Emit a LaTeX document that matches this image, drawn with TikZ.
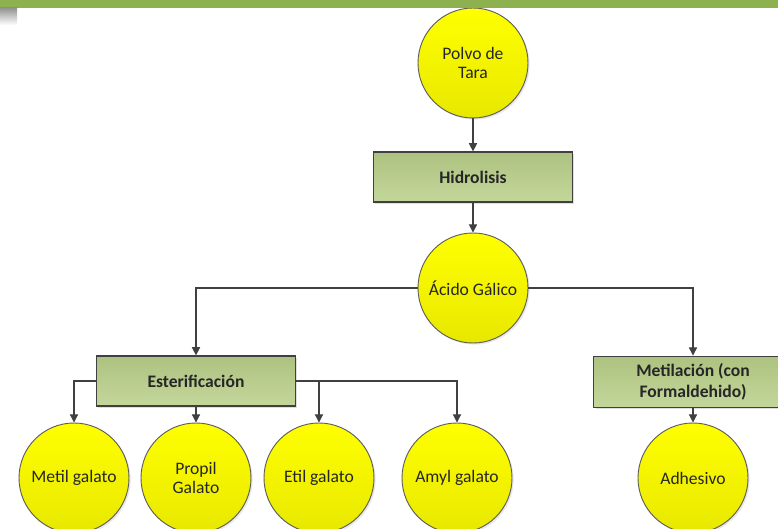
\documentclass[tikz,border=0pt]{standalone}
\usepackage{fontspec}
\setmainfont{Carlito}
\usetikzlibrary{positioning,arrows.meta,shadows}
\definecolor{amarillo}{HTML}{FFFF00}
\definecolor{amarilloosc}{HTML}{E8E800}
\definecolor{verdecaja}{HTML}{C4D79B}
\definecolor{verdecajaosc}{HTML}{ADC280}
\definecolor{verdebarra}{HTML}{8DB14F}
\definecolor{gris}{HTML}{404040}
\begin{document}
\begin{tikzpicture}[x=.03cm,y=.03cm,
	circulo/.style={circle,draw=gris!85,line width=.8pt,top color=amarillo,bottom color=amarilloosc,
		minimum size=3.3cm,inner sep=0pt,align=center,text=black!85,
		font=\fontsize{15}{17}\selectfont,
		drop shadow={opacity=.18,shadow xshift=.05cm,shadow yshift=-.05cm}},
	caja/.style={rectangle,draw=gris,line width=1pt,top color=verdecajaosc,bottom color=verdecaja,
		minimum width=5.95cm,minimum height=1.5cm,align=center,text=black!85,
		font=\fontsize{15}{18}\selectfont\bfseries,
		drop shadow={opacity=.25,shadow xshift=.05cm,shadow yshift=-.05cm}},
	flecha/.style={draw=gris,line width=.9pt,-{Triangle[width=7pt,length=7pt]}}]
	\useasboundingbox (0,0) rectangle (778,529);
	\clip (0,0) rectangle (778,529);
	
	% fila central
	\node[circulo] (polvo) at (473,466) {Polvo de\\Tara};
	\node[caja] (hidrolisis) at (473,352) {Hidrolisis};
	\node[circulo] (acido) at (473,241) {Ácido Gálico};
	
	% procesos
	\node[caja] (ester) at (196,148) {Esterificación};
	\node[caja,minimum height=1.55cm] (metilacion) at (693,147) {Metilación (con\\Formaldehido)};
	
	% productos
	\foreach \x/\nom/\txt in {74/metil/Metil galato,196/propil/{Propil\\Galato},319/etil/Etil galato,
		457/amyl/Amyl galato,693/adhesivo/Adhesivo}
		\node[circulo] (\nom) at (\x,51) {\txt};
	
	\draw[flecha] (polvo) -- (hidrolisis);
	\draw[flecha] (hidrolisis) -- (acido);
	\draw[flecha] (acido.west) -| (ester);
	\draw[flecha] (acido.east) -| (metilacion);
	\draw[flecha] (ester.west) -| (metil);
	\draw[flecha] (ester) -- (propil);
	\draw[flecha] (ester.east) -| (etil);
	\draw[flecha] (ester.east) -| (amyl);
	\draw[flecha] (metilacion) -- (adhesivo);
	
	% barra superior
	\fill[verdebarra] (0,521) rectangle (778,529);
	\shade[top color=gray!85,bottom color=white] (0,504) rectangle (17,521);
\end{tikzpicture}
\end{document}
